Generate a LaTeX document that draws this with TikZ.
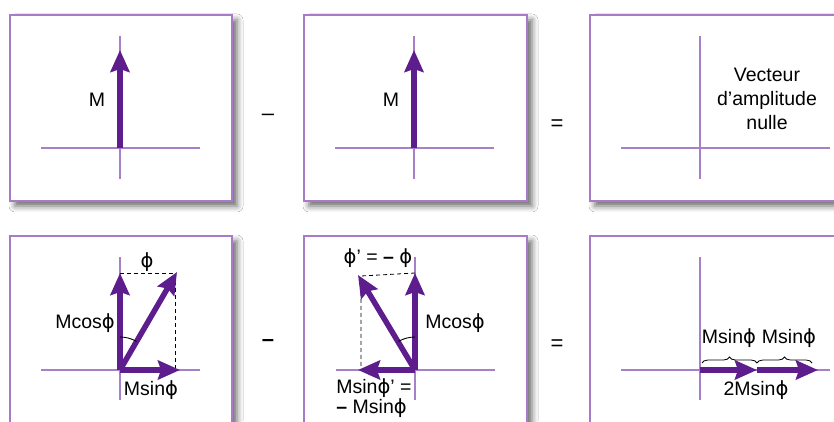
\documentclass[tikz,border=0pt]{standalone}
\usepackage{fontspec}
\setmainfont{Liberation Sans}
\newfontfamily\phifont{DejaVu Sans}
\newcommand{\ph}{{\phifont ϕ}}
\definecolor{framepurple}{HTML}{A77BC8}
\definecolor{axispurple}{HTML}{A880CA}
\definecolor{vecpurple}{HTML}{5E1D8D}
\usetikzlibrary{arrows.meta,shadows.blur,decorations.pathreplacing}

\tikzset{
  panel/.style={draw=framepurple,line width=2.5pt,fill=white,
    blur shadow={shadow xshift=5pt,shadow yshift=-5pt,shadow blur radius=6pt,shadow opacity=60}},
  axis/.style={axispurple,line width=2pt},
  vec/.style={vecpurple,line width=5.5pt,-{Stealth[length=22pt,width=19pt,inset=3pt]}},
  proj/.style={black,line width=0.8pt,dash pattern=on 4pt off 3pt},
  lbl/.style={font=\fontsize{19.5}{22}\selectfont,inner sep=0pt},
  sign/.style={font=\fontsize{22}{24}\selectfont,inner sep=0pt},
  brc/.style={decorate,decoration={brace,amplitude=6pt},black,line width=0.8pt}
}

\begin{document}
\begin{tikzpicture}[x=1pt,y=1pt]
  \useasboundingbox (0,0) rectangle (834,421);
  \fill[white] (0,0) rectangle (834,421);

  % Frames
  \fill[panel] (10,220) rectangle (232,406);
  \fill[panel] (304,220) rectangle (527,406);
  \fill[panel] (590,220) rectangle (870,406);
  \fill[panel] (10,-20) rectangle (232,185);
  \fill[panel] (304,-20) rectangle (527,185);
  \fill[panel] (590,-20) rectangle (870,185);
  \draw[draw=framepurple,line width=2.5pt] (10,220) rectangle (232,406);
  \draw[draw=framepurple,line width=2.5pt] (304,220) rectangle (527,406);
  \draw[draw=framepurple,line width=2.5pt] (590,220) rectangle (870,406);
  \draw[draw=framepurple,line width=2.5pt] (10,-20) rectangle (232,185);
  \draw[draw=framepurple,line width=2.5pt] (304,-20) rectangle (527,185);
  \draw[draw=framepurple,line width=2.5pt] (590,-20) rectangle (870,185);

  % Axes
  \draw[axis] (41,273) -- (200,273);  \draw[axis] (120,385) -- (120,242);
  \draw[axis] (335,273) -- (494,273); \draw[axis] (414,385) -- (414,242);
  \draw[axis] (621,273) -- (830,273); \draw[axis] (700,385) -- (700,242);
  \draw[axis] (41,51) -- (200,51);    \draw[axis] (120,164) -- (120,21);
  \draw[axis] (336,51) -- (495,51);   \draw[axis] (415,164) -- (415,21);
  \draw[axis] (621,51) -- (830,51);   \draw[axis] (700,164) -- (700,21);

  % Top row
  \coordinate (o1) at (120,273);
  \coordinate (m1) at (120,371);
  \draw[vec] (o1) -- (m1);
  \node[lbl] (lm1) at (97,321) {M};

  \node[sign] (minus1) at (268,304) {–};

  \coordinate (o2) at (414,273);
  \coordinate (m2) at (414,371);
  \draw[vec] (o2) -- (m2);
  \node[lbl] (lm2) at (391,321) {M};

  \node[sign] (equal1) at (557,296) {=};

  \node[lbl,align=center,font=\fontsize{19.5}{24}\selectfont] (zero) at (767,322)
    {Vecteur\\d’amplitude\\nulle};

  % Bottom row, left
  \coordinate (o4) at (120,51);
  \coordinate (c4) at (120,148);
  \coordinate (d4) at (177,149);
  \coordinate (s4) at (180,51);
  \coordinate (k4) at (175,148);
  \coordinate (b4) at (175,51);
  \draw[proj] (c4) -- (k4) -- (b4);
  \draw[vec] (o4) -- (c4);
  \draw[vec] (o4) -- (s4);
  \draw[vec] (o4) -- (d4);
  \draw[black,line width=0.9pt] ([shift={(90:33)}]o4) arc[start angle=90,end angle=60,radius=33];
  \node[lbl] (phi4) at (147,159) {\ph};
  \node[lbl] (cos4) at (85,98) {Mcos\ph};
  \node[lbl] (sin4) at (151,31) {Msin\ph};

  \node[sign] (minus2) at (268,78) {\textbf{–}};

  % Bottom row, middle
  \coordinate (o5) at (415,51);
  \coordinate (c5) at (415,148);
  \coordinate (d5) at (358,146);
  \coordinate (s5) at (358,51);
  \coordinate (k5) at (361,145);
  \coordinate (b5) at (361,51);
  \draw[proj] (c5) -- (k5) -- (b5);
  \draw[vec] (o5) -- (c5);
  \draw[vec] (o5) -- (s5);
  \draw[vec] (o5) -- (d5);
  \draw[black,line width=0.9pt] ([shift={(90:33)}]o5) arc[start angle=90,end angle=120,radius=33];
  \node[lbl] (phi5) at (378,163) {\ph’ = \textbf{–} \ph};
  \node[lbl] (cos5) at (455,98) {Mcos\ph};
  \node[lbl,align=left,font=\fontsize{19.5}{18}\selectfont] (sin5) at (374,23)
    {Msin\ph’ =\\\textbf{–} Msin\ph};

  \node[sign] (equal2) at (557,76) {=};

  % Bottom row, right
  \coordinate (o6) at (700,51);
  \coordinate (a6) at (757,51);
  \coordinate (b6) at (818,51);
  \draw[vec] (o6) -- (a6);
  \draw[vec] (a6) -- (b6);
  \draw[brc] (702,58) -- (757,58);
  \draw[brc] (757,58) -- (812,58);
  \node[lbl] (half1) at (729,83) {Msin\ph};
  \node[lbl] (half2) at (789,83) {Msin\ph};
  \node[lbl] (sum6) at (756,31) {2Msin\ph};
\end{tikzpicture}
\end{document}
